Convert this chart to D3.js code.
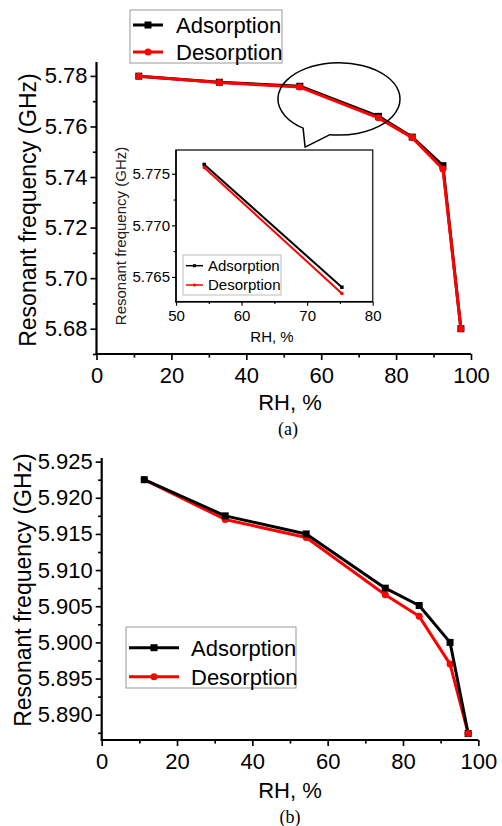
<!DOCTYPE html>
<html lang="en">
<head>
    <meta charset="UTF-8">
    <title>Resonant frequency vs RH</title>
    <script src="https://d3js.org/d3.v7.min.js"></script>
    <style>
        body { margin: 0; background: #fff; }
        svg text { font-family: "Liberation Sans", Arial, sans-serif; fill: #000; }
        .domain { stroke: #000; }
        .caption { font-family: "Liberation Serif", "Times New Roman", serif !important; }
    </style>
</head>
<body>
<div id="chart"></div>
<script>
    // data, panel (a)
    var rhA = [11.3, 32.8, 54.3, 75.3, 84.3, 92.5, 97.3];
    var adsA = [5.7799, 5.7775, 5.7759, 5.7640, 5.7558, 5.7445, 5.6800];
    var desA = [5.7799, 5.7774, 5.7756, 5.7634, 5.7556, 5.7432, 5.6800];
    // data, panel (b)
    var rhB = [11.3, 32.8, 54.3, 75.3, 84.3, 92.5, 97.3];
    var adsB = [5.9225, 5.9175, 5.9150, 5.9075, 5.9051, 5.9000, 5.8874];
    var desB = [5.9225, 5.9170, 5.9145, 5.9066, 5.9036, 5.8970, 5.8874];

    var xMajor = [0, 20, 40, 60, 80, 100];
    var xMinor = [10, 30, 50, 70, 90];
    var yMajorA = [5.68, 5.70, 5.72, 5.74, 5.76, 5.78];
    var yMinorA = [5.67, 5.69, 5.71, 5.73, 5.75, 5.77];
    var yMajorB = [5.890, 5.895, 5.900, 5.905, 5.910, 5.915, 5.920, 5.925];
    var yMinorB = [5.8875, 5.8925, 5.8975, 5.9025, 5.9075, 5.9125, 5.9175, 5.9225];
    var insetXMajor = [50, 60, 70, 80];
    var insetXMinor = [55, 65, 75];
    var insetYMajor = [5.765, 5.770, 5.775];
    var insetYMinor = [5.7675, 5.7725];
    var seriesNames = ["Adsorption", "Desorption"];

    var width = 502, height = 826;
    var svg = d3.select("#chart").append("svg")
        .attr("width", width)
        .attr("height", height);

    function pts(xs, ys) {
        return xs.map(function(d, i) { return { x: d, y: ys[i] }; });
    }

    // axis with major + minor ticks
    function drawAxes(g, x, y, o) {
        var fs = o.fontSize;
        var xa = g.append("g").attr("transform", "translate(0," + y.range()[0] + ")");
        xa.call(d3.axisBottom(x).tickValues(o.xMajor).tickSize(o.tick).tickPadding(o.padX)
            .tickFormat(d3.format("d")));
        xa.append("g").call(d3.axisBottom(x).tickValues(o.xMinor).tickSize(o.tick * 0.6).tickFormat(""))
            .select(".domain").remove();
        var ya = g.append("g").attr("transform", "translate(" + x.range()[0] + ",0)");
        ya.call(d3.axisLeft(y).tickValues(o.yMajor).tickSize(o.tick).tickPadding(o.padY)
            .tickFormat(d3.format(o.yFmt)));
        ya.append("g").call(d3.axisLeft(y).tickValues(o.yMinor).tickSize(o.tick * 0.6).tickFormat(""))
            .select(".domain").remove();
        [xa, ya].forEach(function(a) {
            a.selectAll(".domain").attr("stroke-width", o.axisW).attr("d", null);
            a.selectAll("line").attr("stroke-width", o.axisW * 0.75);
            a.selectAll("text").style("font-size", fs + "px");
        });
        // redraw domains as plain lines (no end caps)
        xa.select(".domain").remove();
        ya.select(".domain").remove();
        g.append("line")
            .attr("x1", x.range()[0] - o.axisW / 2).attr("x2", x.range()[1])
            .attr("y1", y.range()[0]).attr("y2", y.range()[0])
            .attr("stroke", "#000").attr("stroke-width", o.axisW);
        g.append("line")
            .attr("x1", x.range()[0]).attr("x2", x.range()[0])
            .attr("y1", y.range()[0]).attr("y2", y.range()[1])
            .attr("stroke", "#000").attr("stroke-width", o.axisW);
    }

    function drawSeries(g, x, y, data, color, shape, lw, ms) {
        var line = d3.line().x(function(d) { return x(d.x); }).y(function(d) { return y(d.y); });
        g.append("path").datum(data)
            .attr("fill", "none").attr("stroke", color).attr("stroke-width", lw)
            .attr("stroke-linejoin", "round")
            .attr("d", line);
        if (shape === "square") {
            g.selectAll(null).data(data).enter().append("rect")
                .attr("x", function(d) { return x(d.x) - ms / 2; })
                .attr("y", function(d) { return y(d.y) - ms / 2; })
                .attr("width", ms).attr("height", ms).attr("fill", color);
        } else {
            g.selectAll(null).data(data).enter().append("circle")
                .attr("cx", function(d) { return x(d.x); })
                .attr("cy", function(d) { return y(d.y); })
                .attr("r", ms / 2).attr("fill", color);
        }
    }

    function drawLegend(g, box, rows, lw, ms, fs, sampleW, textX, border) {
        g.append("rect")
            .attr("x", box.x).attr("y", box.y).attr("width", box.w).attr("height", box.h)
            .attr("fill", "#fff").attr("stroke", border).attr("stroke-width", 1);
        var colors = ["#000", "#ff0000"];
        seriesNames.forEach(function(name, i) {
            var cy = rows[i];
            g.append("line")
                .attr("x1", box.x + 3).attr("x2", box.x + 3 + sampleW)
                .attr("y1", cy).attr("y2", cy)
                .attr("stroke", colors[i]).attr("stroke-width", lw);
            var mx = box.x + 3 + sampleW / 2;
            if (i === 0) {
                g.append("rect").attr("x", mx - ms / 2).attr("y", cy - ms / 2)
                    .attr("width", ms).attr("height", ms).attr("fill", colors[i]);
            } else {
                g.append("circle").attr("cx", mx).attr("cy", cy).attr("r", ms / 2).attr("fill", colors[i]);
            }
            g.append("text")
                .attr("x", textX).attr("y", cy).attr("dy", "0.36em")
                .style("font-size", fs + "px")
                .text(name);
        });
    }

    // ---------- panel (a) ----------
    var gA = svg.append("g");
    var xA = d3.scaleLinear().domain([0, 100]).range([96.5, 471]);
    var yA = d3.scaleLinear().domain([5.67, 5.7855]).range([354, 62]);
    drawAxes(gA, xA, yA, {
        xMajor: xMajor, xMinor: xMinor, yMajor: yMajorA, yMinor: yMinorA,
        yFmt: ".2f", tick: 6, padX: 7, padY: 3, fontSize: 22, axisW: 2.2
    });
    drawSeries(gA, xA, yA, pts(rhA, adsA), "#000", "square", 3, 7);
    drawSeries(gA, xA, yA, pts(rhA, desA), "#ff0000", "circle", 3, 7);

    gA.append("text").attr("transform", "translate(28,210) rotate(-90)")
        .attr("text-anchor", "middle").attr("dy", "0.36em")
        .style("font-size", "23px").text("Resonant frequency (GHz)");
    gA.append("text").attr("x", 290).attr("y", 410).attr("text-anchor", "middle")
        .style("font-size", "22px").text("RH, %");
    gA.append("text").attr("class", "caption").attr("x", 288).attr("y", 435)
        .attr("text-anchor", "middle").style("font-size", "18px").text("(a)");

    drawLegend(gA, { x: 130, y: 10, w: 152, h: 53 }, [25, 52], 3, 7, 22, 30, 176, "#999");

    // speech-bubble annotation around the 54-75 % region (data units)
    var bub = { cx: 64.75, cy: 5.7709, rx: 16.3, ry: 0.0143, t0: 126, t1: 98.5, tipX: 55.7, tipY: 5.7518 };
    var bcx = xA(bub.cx), bcy = yA(bub.cy);
    var brx = xA(bub.rx) - xA(0), bry = yA(bub.cy - bub.ry) - yA(bub.cy);
    function ep(t) {
        var a = t * Math.PI / 180;
        return [bcx + brx * Math.cos(a), bcy + bry * Math.sin(a)];
    }
    var p0 = ep(bub.t0), p1 = ep(bub.t1);
    gA.append("path")
        .attr("d", "M" + p0 + " A" + brx + " " + bry + " 0 1 1 " + p1 +
            " L" + xA(bub.tipX) + "," + yA(bub.tipY) + " Z")
        .attr("fill", "none").attr("stroke", "#000").attr("stroke-width", 1.5)
        .attr("stroke-linejoin", "round");

    // ---------- inset ----------
    var gI = svg.append("g");
    var xI = d3.scaleLinear().domain([50, 80]).range([176, 372.7]);
    var yI = d3.scaleLinear().domain([5.7626, 5.7773]).range([301.7, 150]);
    gI.append("rect").attr("x", 176).attr("y", 150).attr("width", 196.7).attr("height", 151.7)
        .attr("fill", "#fff").attr("stroke", "#333").attr("stroke-width", 1.5);
    drawAxes(gI, xI, yI, {
        xMajor: insetXMajor, xMinor: insetXMinor, yMajor: insetYMajor, yMinor: insetYMinor,
        yFmt: ".3f", tick: 4, padX: 5, padY: 2, fontSize: 15, axisW: 1.5
    });
    var inRange = function(d) { return d.x >= 50 && d.x <= 80; };
    drawSeries(gI, xI, yI, pts(rhA, adsA).filter(inRange), "#000", "square", 2, 3.5);
    drawSeries(gI, xI, yI, pts(rhA, desA).filter(inRange), "#ff0000", "circle", 2, 3.5);
    gI.append("text").attr("transform", "translate(121,236) rotate(-90)")
        .attr("text-anchor", "middle").attr("dy", "0.36em")
        .style("font-size", "15px").style("fill", "#222").text("Resonant frequency (GHz)");
    gI.append("text").attr("x", 272).attr("y", 342).attr("text-anchor", "middle")
        .style("font-size", "15px").text("RH, %");
    drawLegend(gI, { x: 183, y: 255, w: 98, h: 40 }, [265.7, 285], 1.5, 3, 15, 17, 208, "#bbb");

    // ---------- panel (b) ----------
    var gB = svg.append("g");
    var xB = d3.scaleLinear().domain([0, 100]).range([101.7, 478.3]);
    var yB = d3.scaleLinear().domain([5.8865, 5.9255]).range([740, 458]);
    drawAxes(gB, xB, yB, {
        xMajor: xMajor, xMinor: xMinor, yMajor: yMajorB, yMinor: yMinorB,
        yFmt: ".3f", tick: 6, padX: 7, padY: 3, fontSize: 22, axisW: 2.2
    });
    drawSeries(gB, xB, yB, pts(rhB, desB), "#ff0000", "circle", 3, 7);
    drawSeries(gB, xB, yB, pts(rhB, adsB), "#000", "square", 3, 7);
    // red end point sits on top
    gB.append("circle").datum({ x: rhB[6], y: desB[6] })
        .attr("cx", function(d) { return xB(d.x); }).attr("cy", function(d) { return yB(d.y); })
        .attr("r", 3.5).attr("fill", "#ff0000");

    gB.append("text").attr("transform", "translate(23,590) rotate(-90)")
        .attr("text-anchor", "middle").attr("dy", "0.36em")
        .style("font-size", "23px").text("Resonant frequency (GHz)");
    gB.append("text").attr("x", 290).attr("y", 798).attr("text-anchor", "middle")
        .style("font-size", "22px").text("RH, %");
    gB.append("text").attr("class", "caption").attr("x", 290).attr("y", 823)
        .attr("text-anchor", "middle").style("font-size", "18px").text("(b)");

    drawLegend(gB, { x: 126, y: 627, w: 170, h: 61 }, [647.7, 676.7], 3, 7, 22, 50, 191, "#999");
</script>
</body>
</html>
